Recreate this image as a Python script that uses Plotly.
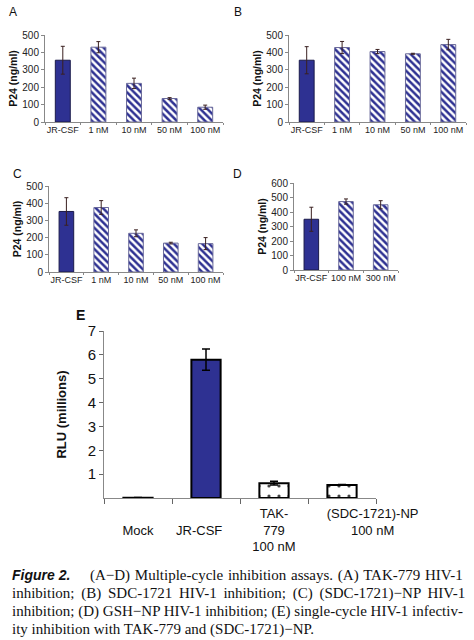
import plotly.graph_objects as go

W, H = 474, 640
NAVY = "#2e3192"
ERR = "#3a2020"

# ---- data ----
cats_abc = ["JR-CSF", "1 nM", "10 nM", "50 nM", "100 nM"]
a_vals = [355, 430, 222, 135, 85]
a_err = [80, 32, 30, 5, 12]
b_vals = [355, 428, 405, 392, 445]
b_err = [78, 35, 12, 3, 30]
c_vals = [352, 375, 225, 168, 165]
c_err = [80, 40, 20, 5, 35]
cats_d = ["JR-CSF", "100 nM", "300 nM"]
d_vals = [350, 472, 450]
d_err = [83, 18, 28]
e_labels = ["<br>Mock", "<br>JR-CSF", "TAK-<br>779<br>100 nM", "(SDC-1721)-NP<br>100 nM"]
e_label_pos = [0, 0.9, 2, 3.45]
e_vals = [0.01, 5.8, 0.62, 0.55]
e_err = [0.01, 0.45, 0.08, 0.02]

fig = go.Figure()

def px_x(p):
    return p / W

def px_y(p):
    return 1 - p / H

panels = [
    ("", cats_abc, a_vals, a_err, (45, 223), (122, 35), 500, 100),
    ("2", cats_abc, b_vals, b_err, (289, 466), (122, 35), 500, 100),
    ("3", cats_abc, c_vals, c_err, (49, 223), (272, 186), 500, 100),
    ("4", cats_d, d_vals, d_err, (294, 398), (270, 183), 600, 100),
]

for ax, cats, vals, err, xd, yd, ymax, dt in panels:
    n = len(cats)
    shapes = [""] + ["\\"] * (n - 1)
    lines = ["#1a1a4a"] + ["#6a6a9a"] * (n - 1)
    fig.add_trace(go.Bar(
        x=cats, y=vals,
        xaxis="x" + ax, yaxis="y" + ax,
        marker=dict(color=NAVY,
                    line=dict(color=lines, width=1),
                    pattern=dict(shape=shapes, fillmode="overlay",
                                 fgopacity=1, size=5, solidity=0.5)),
        error_y=dict(type="data", array=err, color=ERR, thickness=1, width=2),
        width=0.42, showlegend=False,
    ))
    xa = dict(domain=[px_x(xd[0]), px_x(xd[1])], anchor="y" + ax, automargin=False,
              showline=True, linecolor="#888", linewidth=1, showgrid=False, zeroline=False,
              ticks="outside", tickson="boundaries", ticklen=2, tickcolor="#888",
              tickangle=0, ticklabelstandoff=-1,
              tickfont=dict(family="Liberation Sans", size=9, color="#222"),
              range=[-0.5, n - 0.5], fixedrange=True)
    ya = dict(domain=[px_y(yd[0]), px_y(yd[1])], anchor="x" + ax, automargin=False,
              range=[0, ymax], dtick=dt, showgrid=False, zeroline=False,
              showline=True, linecolor="#888", linewidth=1,
              ticks="outside", ticklen=3, tickcolor="#888",
              tickfont=dict(family="Liberation Sans", size=10, color="#222"),
              title=dict(text="<b>P24 (ng/ml)</b>", standoff=2,
                         font=dict(family="Liberation Sans", size=10.5, color="#111")))
    fig.layout["xaxis" + ax] = xa
    fig.layout["yaxis" + ax] = ya

# panel E
fig.add_trace(go.Bar(
    x=[0, 1, 2, 3], y=e_vals, xaxis="x5", yaxis="y5",
    marker=dict(color=["black", NAVY, "white", "white"],
                line=dict(color="black", width=2),
                pattern=dict(shape=["", "", ".", "."], fillmode="overlay",
                             fgopacity=1, size=10, solidity=0.08)),
    error_y=dict(type="data", array=e_err, color="black", thickness=1.5, width=4),
    width=0.43, showlegend=False,
))
fig.layout["xaxis5"] = dict(domain=[px_x(104), px_x(376)], anchor="y5", automargin=False,
                            showline=True, linecolor="#888", linewidth=1,
                            tickmode="array", tickvals=e_label_pos, ticktext=e_labels,
                            ticks="outside", ticklen=0, tickangle=0, ticklabelstandoff=3,
                            minor=dict(ticks="outside", tick0=0.5, dtick=1, ticklen=5,
                                       tickcolor="#666", showgrid=False),
                            showgrid=False, zeroline=False,
                            tickfont=dict(family="Liberation Sans", size=13, color="#111"),
                            range=[-0.5, 3.5], fixedrange=True)
fig.layout["yaxis5"] = dict(domain=[px_y(498), px_y(331)], anchor="x5", automargin=False,
                            range=[0, 7], tickvals=[1, 2, 3, 4, 5, 6, 7],
                            showgrid=False, zeroline=False,
                            showline=True, linecolor="#888", linewidth=1,
                            ticks="outside", ticklen=4, tickcolor="#666",
                            tickfont=dict(family="Liberation Sans", size=15, color="#111"),
                            title=dict(text="<b>RLU (millions)</b>", standoff=18,
                                       font=dict(family="Liberation Sans", size=13, color="#111")))

ann = []
for t, x, y in [("A", 13, 12), ("B", 238, 12), ("C", 17, 174), ("D", 237, 174)]:
    ann.append(dict(text=t, x=px_x(x), y=px_y(y), xref="paper", yref="paper",
                    xanchor="center", yanchor="middle", showarrow=False,
                    font=dict(family="Liberation Sans", size=12, color="#111")))
ann.append(dict(text="<b>E</b>", x=px_x(80), y=px_y(315), xref="paper", yref="paper",
                xanchor="center", yanchor="middle", showarrow=False,
                font=dict(family="Liberation Sans", size=14, color="#111")))

ann.append(dict(text="<b><i>Figure 2.</i></b>", x=px_x(10), y=px_y(575), xref="paper", yref="paper",
                xanchor="left", yanchor="middle", showarrow=False,
                font=dict(family="Liberation Sans", size=14, color="#111")))
ann.append(dict(text="<span style='word-spacing:1px'>(A\u2212D) Multiple-cycle inhibition assays. (A) TAK-779 HIV-1</span>",
                x=px_x(88), y=px_y(575), xref="paper", yref="paper",
                xanchor="left", yanchor="middle", showarrow=False,
                font=dict(family="Liberation Serif", size=15, color="#111")))
cap_lines = [
    ("inhibition; (B) SDC-1721 HIV-1 inhibition; (C) (SDC-1721)\u2212NP HIV-1", 3),
    ("inhibition; (D) GSH\u2212NP HIV-1 inhibition; (E) single-cycle HIV-1 infectiv-", 0),
    ("ity inhibition with TAK-779 and (SDC-1721)\u2212NP.", 0),
]
for i, (line, ws) in enumerate(cap_lines):
    ann.append(dict(text="<span style='word-spacing:%dpx'>%s</span>" % (ws, line),
                    x=px_x(10), y=px_y(593 + 18 * i), xref="paper", yref="paper",
                    xanchor="left", yanchor="middle", showarrow=False,
                    font=dict(family="Liberation Serif", size=15, color="#111")))

fig.update_layout(template="none", width=W, height=H, margin=dict(l=0, r=0, t=0, b=0, autoexpand=False),
                  paper_bgcolor="white", plot_bgcolor="white",
                  annotations=ann, bargap=0.58)

fig.write_html("out.html", config={"displayModeBar": False})
